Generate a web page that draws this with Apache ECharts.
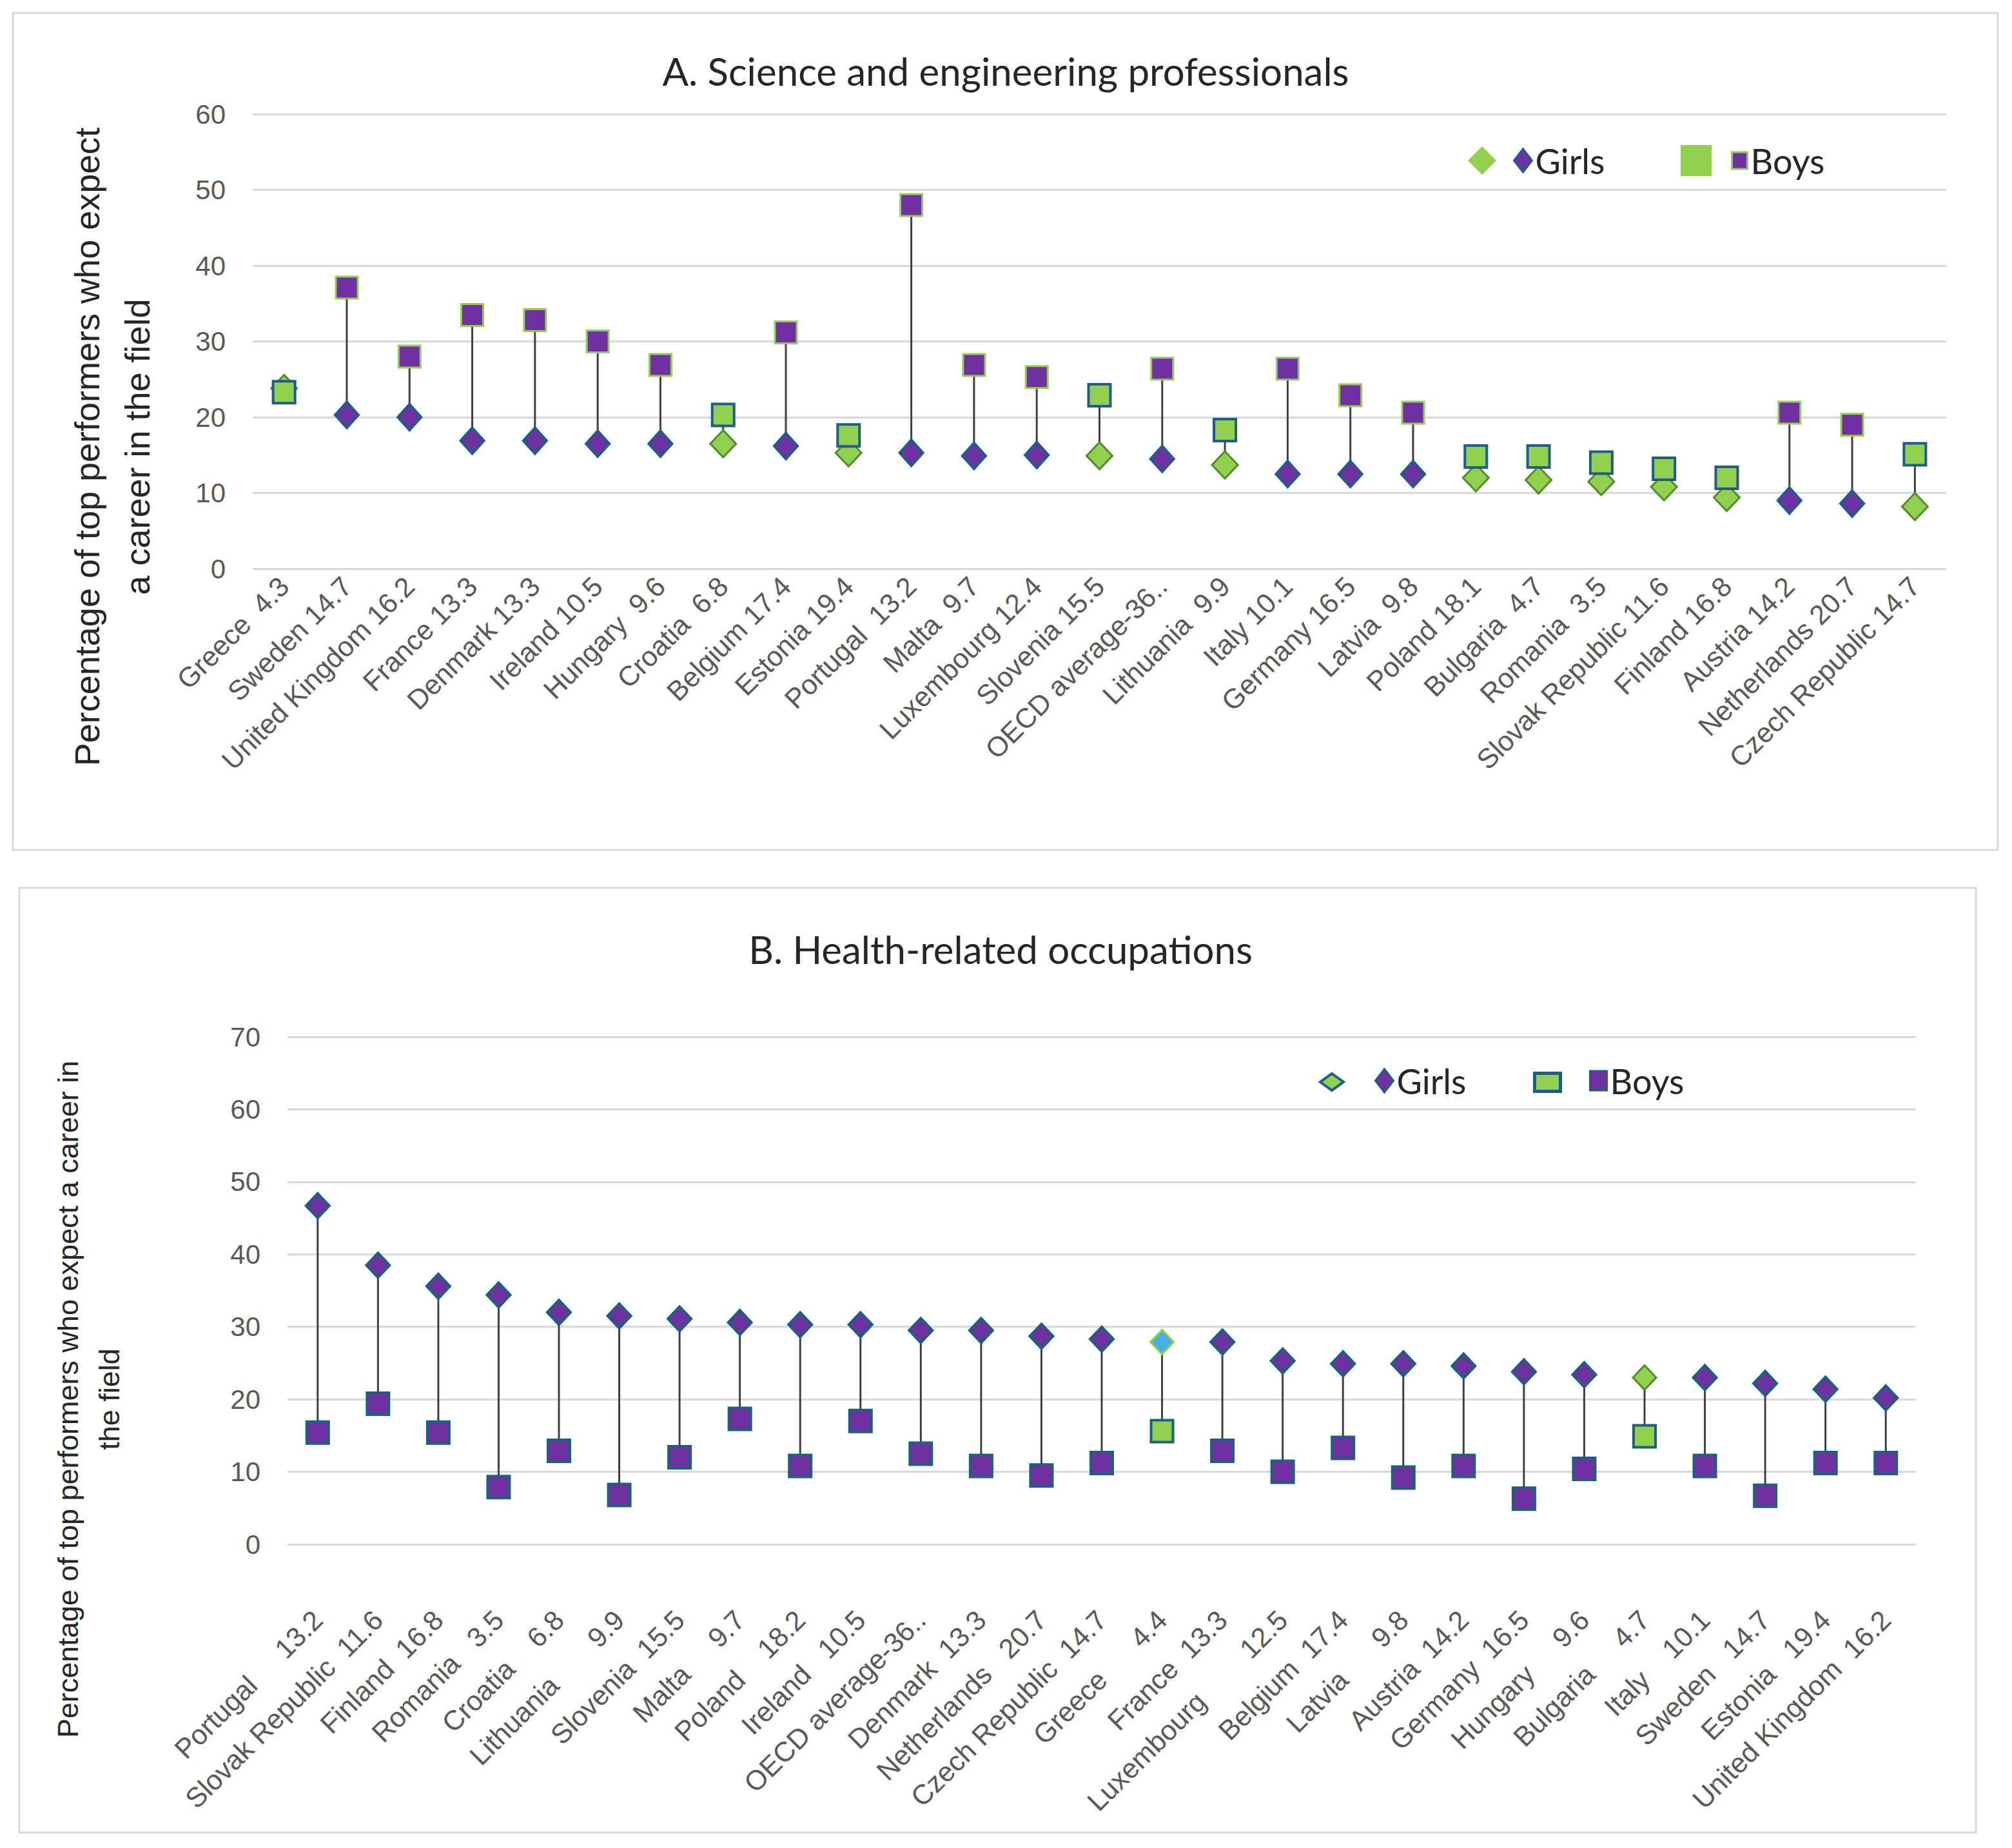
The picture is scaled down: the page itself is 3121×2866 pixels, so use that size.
<!DOCTYPE html>
<html>
<head>
<meta charset="utf-8">
<script src="https://cdn.jsdelivr.net/npm/echarts@6/dist/echarts.min.js"></script>
<style>
html,body{margin:0;padding:0;background:#fff;}
#chart{width:3121px;height:2866px;}
</style>
</head>
<body>
<div id="chart"></div>
<script>
// ---------- Data: A. Science and engineering professionals ----------
const sciCategories = [
  'Greece  4.3','Sweden 14.7','United Kingdom 16.2','France 13.3','Denmark 13.3','Ireland 10.5',
  'Hungary  9.6','Croatia  6.8','Belgium 17.4','Estonia 19.4','Portugal  13.2','Malta  9.7',
  'Luxembourg 12.4','Slovenia 15.5','OECD average-36..','Lithuania  9.9','Italy 10.1','Germany 16.5',
  'Latvia  9.8','Poland 18.1','Bulgaria  4.7','Romania  3.5','Slovak Republic 11.6','Finland 16.8',
  'Austria 14.2','Netherlands 20.7','Czech Republic 14.7'
];
const sciGirls = [23.8,20.3,20.0,16.9,16.9,16.5,16.5,16.5,16.2,15.3,15.3,14.9,15.0,14.9,14.5,13.7,12.5,12.5,12.5,12.0,11.7,11.5,10.8,9.4,9.0,8.6,8.2];
const sciBoys  = [23.3,37.1,28.0,33.5,32.8,30.0,26.9,20.3,31.2,17.6,48.0,26.9,25.3,22.9,26.4,18.3,26.4,22.9,20.6,14.8,14.8,14.0,13.2,12.0,20.6,19.0,15.1];
// 1 = gender difference not significant (green markers)
const sciNotSig = [1,0,0,0,0,0,0,1,0,1,0,0,0,1,0,1,0,0,0,1,1,1,1,1,0,0,1];
const sciTicks = [0,10,20,30,40,50,60];

// ---------- Data: B. Health-related occupations ----------
const healthCategories = [
  'Portugal     13.2','Slovak Republic  11.6','Finland  16.8','Romania   3.5','Croatia    6.8',
  'Lithuania       9.9','Slovenia  15.5','Malta     9.7','Poland    18.2','Ireland   10.5',
  'OECD average-36..','Denmark  13.3','Netherlands   20.7','Czech Republic  14.7','Greece      4.4',
  'France  13.3','Luxembourg        12.5','Belgium  17.4','Latvia      9.8','Austria  14.2',
  'Germany  16.5','Hungary     9.6','Bulgaria     4.7','Italy    10.1','Sweden   14.7',
  'Estonia   19.4','United Kingdom  16.2'
];
const healthGirls = [46.7,38.5,35.6,34.4,32.0,31.5,31.1,30.6,30.3,30.3,29.5,29.5,28.7,28.3,27.9,27.9,25.3,24.9,24.9,24.6,23.8,23.4,23.0,23.0,22.2,21.4,20.2];
const healthBoys  = [15.4,19.4,15.4,7.9,12.9,6.8,12.0,17.3,10.8,17.0,12.5,10.8,9.5,11.2,15.6,12.9,10.0,13.3,9.2,10.8,6.3,10.4,14.9,10.8,6.7,11.2,11.2];
const healthNotSig = [0,0,0,0,0,0,0,0,0,0,0,0,0,0,1,0,0,0,0,0,0,0,1,0,0,0,0];
const healthTicks = [0,10,20,30,40,50,60,70];

// ---------- Styling ----------
const PURPLE = '#7030A0', GREEN = '#92D050', DBLUE = '#1F5C8C', TEAL = '#1D5F7E', DGREEN = '#4F8F2A', LBLUE = '#46B1E1';
const GRID = '#D9D9D9';
const TICKFONT = '"Liberation Sans", Arial, sans-serif';
const TITLEFONT = 'Lato, "Open Sans", sans-serif';
const LEGTEXT = { fontFamily: TITLEFONT, fontSize: 54, color: '#262626', lineHeight: 56 };

function pick(vals, flags, want) { return vals.map((v, i) => (flags[i] === want ? v : '-')); }

function stemSeries(xi, yi, girls, boys) {
  return {
    type: 'custom', xAxisIndex: xi, yAxisIndex: yi, z: 1, silent: true,
    data: girls.map((g, i) => [i, g, boys[i]]),
    encode: { x: 0, y: [1, 2] },
    renderItem: function (params, api) {
      const a = api.coord([api.value(0), api.value(1)]);
      const b = api.coord([api.value(0), api.value(2)]);
      return { type: 'line', shape: { x1: a[0], y1: a[1], x2: b[0], y2: b[1] },
               style: { stroke: '#3F3F3F', lineWidth: 3 } };
    }
  };
}

const healthGirlsNSData = healthGirls.map((v, i) => {
  if (!healthNotSig[i]) return '-';
  if (healthCategories[i].startsWith('Bulgaria')) {
    return { value: v, itemStyle: { color: GREEN, borderColor: DGREEN } };
  }
  return v;
});

const xLabelA = { interval: 0, rotate: 45, margin: 20, fontSize: 43, fontFamily: TICKFONT, color: '#595959' };
const xLabelB = { interval: 0, rotate: 45, margin: 110, fontSize: 43, fontFamily: TICKFONT, color: '#595959' };
const yLabel = { margin: 42, fontSize: 42, fontFamily: TICKFONT, color: '#595959' };

const option = {
  animation: false,
  backgroundColor: '#fff',
  graphic: [
    { type: 'rect', shape: { x: 20, y: 20, width: 3079, height: 1298 }, style: { fill: 'none', stroke: GRID, lineWidth: 3 }, z: -10 },
    { type: 'rect', shape: { x: 30, y: 1377, width: 3035, height: 1465 }, style: { fill: 'none', stroke: GRID, lineWidth: 3 }, z: -10 },
    { type: 'text', x: 174, y: 693, rotation: Math.PI / 2,
      style: { text: 'Percentage of top performers who expect\na career in the field', font: '54px ' + TICKFONT,
               fill: '#262626', align: 'center', verticalAlign: 'middle', lineHeight: 78 } },
    { type: 'text', x: 137, y: 2170, rotation: Math.PI / 2,
      style: { text: 'Percentage of top performers who expect a career in\nthe field', font: '45px ' + TICKFONT,
               fill: '#262626', align: 'center', verticalAlign: 'middle', lineHeight: 64 } }
  ],
  title: [
    { text: 'A. Science and engineering professionals', left: 1560, top: 80, textAlign: 'center', padding: 0,
      textStyle: { fontFamily: TITLEFONT, fontSize: 60, fontWeight: 'normal', color: '#262626' } },
    { text: 'B. Health-related occupations', left: 1552, top: 1442, textAlign: 'center', padding: 0,
      textStyle: { fontFamily: TITLEFONT, fontSize: 60, fontWeight: 'normal', color: '#262626' } }
  ],
  legend: [
    { data: [{ name: 'Girls (n.s.) A', itemStyle: { color: GREEN, borderColor: GREEN, borderWidth: 0 } }],
      left: 2277, top: 227, padding: 0, selectedMode: false, itemWidth: 44, itemHeight: 44, formatter: () => '' },
    { data: [{ name: 'Girls A', itemStyle: { color: PURPLE, borderColor: DBLUE, borderWidth: 3 } }],
      left: 2347, top: 221, padding: 0, selectedMode: false, itemWidth: 28, itemHeight: 36,
      formatter: () => 'Girls', textStyle: LEGTEXT },
    { data: [{ name: 'Boys (n.s.) A', itemStyle: { color: GREEN, borderColor: GREEN, borderWidth: 0 } }],
      left: 2607, top: 225, padding: 0, selectedMode: false, itemWidth: 48, itemHeight: 48, formatter: () => '' },
    { data: [{ name: 'Boys A', itemStyle: { color: PURPLE, borderColor: GREEN, borderWidth: 3 } }],
      left: 2685, top: 221, padding: 0, selectedMode: false, itemWidth: 24, itemHeight: 26,
      formatter: () => 'Boys', textStyle: LEGTEXT },

    { data: [{ name: 'Girls (n.s.) B', itemStyle: { color: GREEN, borderColor: TEAL, borderWidth: 4 } }],
      left: 2046, top: 1663, padding: 0, selectedMode: false, itemWidth: 36, itemHeight: 26, formatter: () => '' },
    { data: [{ name: 'Girls B', itemStyle: { color: PURPLE, borderColor: TEAL, borderWidth: 3 } }],
      left: 2132, top: 1648, padding: 0, selectedMode: false, itemWidth: 28, itemHeight: 36,
      formatter: () => 'Girls', textStyle: LEGTEXT },
    { data: [{ name: 'Boys (n.s.) B', itemStyle: { color: GREEN, borderColor: TEAL, borderWidth: 5 } }],
      left: 2378, top: 1662, padding: 0, selectedMode: false, itemWidth: 40, itemHeight: 28, formatter: () => '' },
    { data: [{ name: 'Boys B', itemStyle: { color: PURPLE, borderColor: TEAL, borderWidth: 3 } }],
      left: 2465, top: 1648, padding: 0, selectedMode: false, itemWidth: 26, itemHeight: 30,
      formatter: () => 'Boys', textStyle: LEGTEXT }
  ],
  grid: [
    { left: 392, top: 177, width: 2627, height: 705 },
    { left: 446, top: 1608, width: 2526, height: 787 }
  ],
  xAxis: [
    { type: 'category', gridIndex: 0, data: sciCategories, boundaryGap: true,
      axisLine: { show: false }, axisTick: { show: false }, axisLabel: xLabelA },
    { type: 'category', gridIndex: 1, data: healthCategories, boundaryGap: true,
      axisLine: { show: false }, axisTick: { show: false }, axisLabel: xLabelB }
  ],
  yAxis: [
    { type: 'value', gridIndex: 0, min: sciTicks[0], max: sciTicks[sciTicks.length - 1], interval: 10,
      axisLine: { show: false }, axisTick: { show: false },
      splitLine: { lineStyle: { color: GRID, width: 3 } }, axisLabel: yLabel },
    { type: 'value', gridIndex: 1, min: healthTicks[0], max: healthTicks[healthTicks.length - 1], interval: 10,
      axisLine: { show: false }, axisTick: { show: false },
      splitLine: { lineStyle: { color: GRID, width: 3 } }, axisLabel: yLabel }
  ],
  series: [
    stemSeries(0, 0, sciGirls, sciBoys),
    { name: 'Girls (n.s.) A', type: 'scatter', xAxisIndex: 0, yAxisIndex: 0, z: 2, symbol: 'diamond', symbolSize: [40, 42],
      data: pick(sciGirls, sciNotSig, 1), itemStyle: { color: GREEN, borderColor: DGREEN, borderWidth: 3, opacity: 1 } },
    { name: 'Girls A', type: 'scatter', xAxisIndex: 0, yAxisIndex: 0, z: 3, symbol: 'diamond', symbolSize: [36, 40],
      data: pick(sciGirls, sciNotSig, 0), itemStyle: { color: PURPLE, borderColor: DBLUE, borderWidth: 4, opacity: 1 } },
    { name: 'Boys (n.s.) A', type: 'scatter', xAxisIndex: 0, yAxisIndex: 0, z: 4, symbol: 'rect', symbolSize: 34,
      data: pick(sciBoys, sciNotSig, 1), itemStyle: { color: GREEN, borderColor: DBLUE, borderWidth: 4, opacity: 1 } },
    { name: 'Boys A', type: 'scatter', xAxisIndex: 0, yAxisIndex: 0, z: 5, symbol: 'rect', symbolSize: 34,
      data: pick(sciBoys, sciNotSig, 0), itemStyle: { color: PURPLE, borderColor: GREEN, borderWidth: 3, opacity: 1 } },

    stemSeries(1, 1, healthGirls, healthBoys),
    { name: 'Girls (n.s.) B', type: 'scatter', xAxisIndex: 1, yAxisIndex: 1, z: 2, symbol: 'diamond', symbolSize: [36, 38],
      data: healthGirlsNSData, itemStyle: { color: LBLUE, borderColor: GREEN, borderWidth: 3, opacity: 1 } },
    { name: 'Girls B', type: 'scatter', xAxisIndex: 1, yAxisIndex: 1, z: 3, symbol: 'diamond', symbolSize: [36, 38],
      data: pick(healthGirls, healthNotSig, 0), itemStyle: { color: PURPLE, borderColor: TEAL, borderWidth: 4, opacity: 1 } },
    { name: 'Boys (n.s.) B', type: 'scatter', xAxisIndex: 1, yAxisIndex: 1, z: 4, symbol: 'rect', symbolSize: 34,
      data: pick(healthBoys, healthNotSig, 1), itemStyle: { color: GREEN, borderColor: TEAL, borderWidth: 4, opacity: 1 } },
    { name: 'Boys B', type: 'scatter', xAxisIndex: 1, yAxisIndex: 1, z: 5, symbol: 'rect', symbolSize: 34,
      data: pick(healthBoys, healthNotSig, 0), itemStyle: { color: PURPLE, borderColor: TEAL, borderWidth: 4, opacity: 1 } }
  ]
};

const chart = echarts.init(document.getElementById('chart'), null, { renderer: 'svg', width: 3121, height: 2866 });
chart.setOption(option);
</script>
</body>
</html>
